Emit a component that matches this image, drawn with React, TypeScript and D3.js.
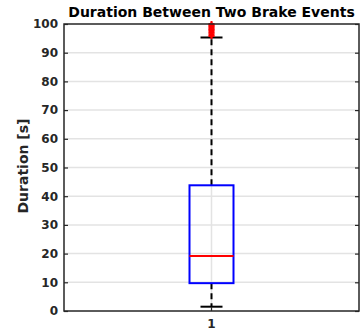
import React, { useRef, useEffect } from 'react';
import * as d3 from 'd3';

const categories: string[] = ['1'];
const boxStats: number[] = [1.5, 9.7, 19.2, 43.8, 95.3]; // min whisker, q1, median, q3, max whisker
const outliers: number[] = [95.8, 96.3, 96.9, 97.4, 97.9, 98.3, 98.8, 99.2, 99.6, 100];
const yTicks: number[] = [0, 10, 20, 30, 40, 50, 60, 70, 80, 90, 100];

const App: React.FC = () => {
  const svgRef = useRef<SVGSVGElement | null>(null);

  useEffect(() => {
    if (!svgRef.current) return;
    const svg = d3.select(svgRef.current);
    svg.selectAll('*').remove();

    const width = 362;
    const height = 331;
    const margin = { top: 24, right: 3, bottom: 20, left: 64 };
    const font = 'DejaVu Sans, sans-serif';
    const axisColor = '#262626';

    const x = d3.scaleBand()
      .domain(categories)
      .range([margin.left, width - margin.right]);

    const y = d3.scaleLinear()
      .domain([0, 100])
      .range([height - margin.bottom, margin.top]);

    const cx = x('1')! + x.bandwidth() / 2;
    const x0 = margin.left;
    const x1 = width - margin.right;
    const y0 = y(0);
    const y1 = y(100);

    // grid
    svg.append('g')
      .selectAll('line')
      .data(yTicks.slice(1, -1))
      .enter()
      .append('line')
      .attr('x1', x0).attr('x2', x1)
      .attr('y1', d => y(d)).attr('y2', d => y(d))
      .attr('stroke', '#e3e3e3').attr('stroke-width', 1.5);

    svg.append('line')
      .attr('x1', cx).attr('x2', cx)
      .attr('y1', y0).attr('y2', y1)
      .attr('stroke', '#e3e3e3').attr('stroke-width', 1.5);

    const [wLo, q1, med, q3, wHi] = boxStats;
    const boxW = 44;
    const capW = 22;

    // whiskers
    svg.append('line')
      .attr('x1', cx).attr('x2', cx)
      .attr('y1', y(q3)).attr('y2', y(wHi))
      .attr('stroke', '#000').attr('stroke-width', 2)
      .attr('stroke-dasharray', '6,4');
    svg.append('line')
      .attr('x1', cx).attr('x2', cx)
      .attr('y1', y(q1)).attr('y2', y(wLo))
      .attr('stroke', '#000').attr('stroke-width', 2)
      .attr('stroke-dasharray', '6,4');

    svg.append('g')
      .selectAll('line')
      .data([wLo, wHi])
      .enter()
      .append('line')
      .attr('x1', cx - capW / 2).attr('x2', cx + capW / 2)
      .attr('y1', d => y(d)).attr('y2', d => y(d))
      .attr('stroke', '#000').attr('stroke-width', 2);

    // box
    svg.append('rect')
      .attr('x', cx - boxW / 2)
      .attr('y', y(q3))
      .attr('width', boxW)
      .attr('height', y(q1) - y(q3))
      .attr('fill', 'none')
      .attr('stroke', '#0000ff')
      .attr('stroke-width', 2);

    svg.append('line')
      .attr('x1', cx - boxW / 2).attr('x2', cx + boxW / 2)
      .attr('y1', y(med)).attr('y2', y(med))
      .attr('stroke', '#ff0000').attr('stroke-width', 2);

    // outliers
    const out = svg.append('g').attr('stroke', '#ff0000').attr('stroke-width', 2);
    outliers.forEach(v => {
      out.append('line')
        .attr('x1', cx - 3).attr('x2', cx + 3)
        .attr('y1', y(v)).attr('y2', y(v));
      out.append('line')
        .attr('x1', cx).attr('x2', cx)
        .attr('y1', y(v) - 3).attr('y2', y(v) + 3);
    });

    // axes frame
    svg.append('rect')
      .attr('x', x0).attr('y', y1)
      .attr('width', x1 - x0).attr('height', y0 - y1)
      .attr('fill', 'none')
      .attr('stroke', axisColor).attr('stroke-width', 1.5);

    const yAxis = svg.append('g')
      .attr('transform', `translate(${x0},0)`)
      .call(d3.axisLeft(y).tickValues(yTicks).tickSize(-4).tickPadding(6));
    yAxis.select('.domain').remove();
    yAxis.selectAll('line').attr('stroke', axisColor).attr('stroke-width', 1.2);
    yAxis.selectAll('text')
      .attr('fill', axisColor)
      .style('font-family', font)
      .style('font-size', '12px')
      .style('font-weight', 'bold');

    const yAxisR = svg.append('g')
      .attr('transform', `translate(${x1},0)`)
      .call(d3.axisRight(y).tickValues(yTicks).tickSize(-4).tickFormat(() => ''));
    yAxisR.select('.domain').remove();
    yAxisR.selectAll('line').attr('stroke', axisColor).attr('stroke-width', 1.2);

    const xAxis = svg.append('g')
      .attr('transform', `translate(0,${y0})`)
      .call(d3.axisBottom(x).tickSize(-4).tickPadding(8));
    xAxis.select('.domain').remove();
    xAxis.selectAll('line').attr('stroke', axisColor).attr('stroke-width', 1.2);
    xAxis.selectAll('text')
      .attr('fill', axisColor)
      .style('font-family', font)
      .style('font-size', '12px')
      .style('font-weight', 'bold');

    // title
    svg.append('text')
      .attr('x', (x0 + x1) / 2)
      .attr('y', 17)
      .attr('text-anchor', 'middle')
      .style('font-family', font)
      .style('font-size', '14px')
      .style('font-weight', 'bold')
      .attr('fill', '#000')
      .text('Duration Between Two Brake Events');

    svg.append('text')
      .attr('transform', `translate(28,166) rotate(-90)`)
      .attr('text-anchor', 'middle')
      .style('font-family', font)
      .style('font-size', '14px')
      .style('font-weight', 'bold')
      .attr('fill', axisColor)
      .text('Duration [s]');
  }, []);

  return (
    <svg
      ref={svgRef}
      width={362}
      height={331}
      style={{ position: 'absolute', left: 0, top: 0, background: '#fff' }}
    />
  );
};

export default App;
